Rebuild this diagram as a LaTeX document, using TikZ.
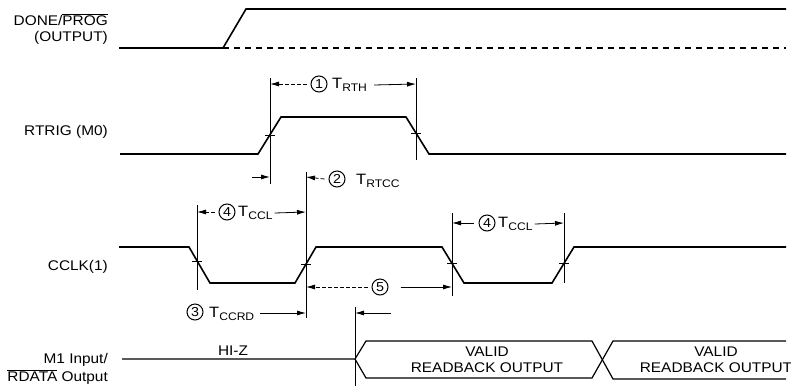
\documentclass[tikz,border=0pt]{standalone}
\usepackage{fontspec}
\setmainfont[FakeStretch=1.1]{Liberation Sans}
\usetikzlibrary{arrows.meta}

\newcommand{\tsub}[1]{{\fontsize{15}{15}\selectfont T}\raisebox{-2.5pt}{\fontsize{11}{11}\selectfont #1}}

\begin{document}
\begin{tikzpicture}[
			x=1pt, y=-1pt,
			every node/.style={font=\fontsize{14}{16}\selectfont, inner sep=0pt},
			wave/.style={line width=1.6pt},
			bus/.style={line width=1.2pt},
			guide/.style={line width=0.7pt},
			dim/.style={line width=0.8pt, -{Latex[length=9pt,width=5pt]}},
			dimdash/.style={dim, dash pattern=on 4pt off 2pt},
			num/.style={circle, draw, line width=1pt, minimum size=16pt, inner sep=0pt, font=\fontsize{13}{13}\selectfont},
			sig/.style={align=right, anchor=east}
		]
		\useasboundingbox (0,0) rectangle (791,386);

		\node[sig] (done) at (108,29) {DONE/$\overline{\mbox{PROG}}$\\(OUTPUT)};
		\node[sig] (rtrig) at (108,132) {RTRIG (M0)};
		\node[sig] (cclk) at (108,267) {CCLK(1)};
		\node[sig, font=\fontsize{14}{18}\selectfont] (mone) at (108,369) {M1 Input/\\$\overline{\mbox{RDATA}}$ Output};

		\draw[wave] (119,48) -- (223,48) -- (246,9) -- (786,9);
		\draw[wave, line width=1.2pt, dash pattern=on 6pt off 5pt] (223,48) -- (786,48);
		\draw[wave] (120,154) -- (258,154) -- (281,117) -- (406,117) -- (429,154) -- (786,154);
		\draw[wave] (119,247) -- (189,247) -- (210,283) -- (295,283) -- (316,247) -- (442,247)
			-- (464,283) -- (552,283) -- (574,247) -- (786,247);
		\draw[bus] (122,359) -- (355,359) -- (366,341) -- (592,341) -- (613,379) -- (786,379);
		\draw[bus] (355,359) -- (366,378) -- (592,378) -- (613,341) -- (786,341);

		\node (hiz) at (233,351) {HI-Z};
		\node[align=center] (valida) at (487,360) {VALID\\READBACK OUTPUT};
		\node[align=center] (validb) at (716,360) {VALID\\READBACK OUTPUT};

		\draw[guide] (270,78) -- (270,184);
		\draw[guide] (416,78) -- (416,160);
		\draw[guide] (306,172) -- (306,318);
		\draw[guide] (197,205) -- (197,290);
		\draw[guide] (452,213) -- (452,296);
		\draw[guide] (564,213) -- (564,283);
		\draw[guide] (355,307) -- (355,386);

		\foreach \x/\y in {270/135, 416/133, 197/261, 306/264, 452/263, 564/263}
			\draw[guide] ([xshift=-5pt]\x,\y) -- ([xshift=5pt]\x,\y);

		\node[num] (n1) at (319,84) {1};
		\node[anchor=west] (trth) at (332,85) {\tsub{RTH}};
		\draw[dimdash] (n1.west) ++(-4,0) -- (270,84);
		\draw[dim] (trth.east) ++(7,0) -- (416,84);

		\node[num] (n2) at (337,179) {2};
		\node[anchor=west] (trtcc) at (356,181) {\tsub{RTCC}};
		\draw[dimdash] (n2.west) ++(-4,0) -- (306,177);
		\draw[dim] (252,177) -- (270,177);

		\node[num] (n4) at (227,212) {4};
		\node[anchor=west] (tccla) at (238,213) {\tsub{CCL}};
		\draw[dimdash] (n4.west) ++(-4,0) -- (197,212);
		\draw[dim] (tccla.east) ++(2,0) -- (306,212);

		\node[num] (n4b) at (487,223) {4};
		\node[anchor=west] (tcclb) at (498,224) {\tsub{CCL}};
		\draw[dim] (n4b.west) ++(-5,0) -- (452,223);
		\draw[dim] (tcclb.east) ++(2,0) -- (564,223);

		\node[num] (n5) at (380,287) {5};
		\draw[dimdash] (n5.west) ++(-4,0) -- (306,287);
		\draw[dim] (n5.east) ++(12,0) -- (452,287);

		\node[num] (n3) at (195,312) {3};
		\node[anchor=west] (tccrd) at (209,314) {\tsub{CCRD}};
		\draw[dim] (tccrd.east) ++(6,-1) -- (306,313);
		\draw[dim] (391,313) -- (355,313);
	\end{tikzpicture}
\end{document}
